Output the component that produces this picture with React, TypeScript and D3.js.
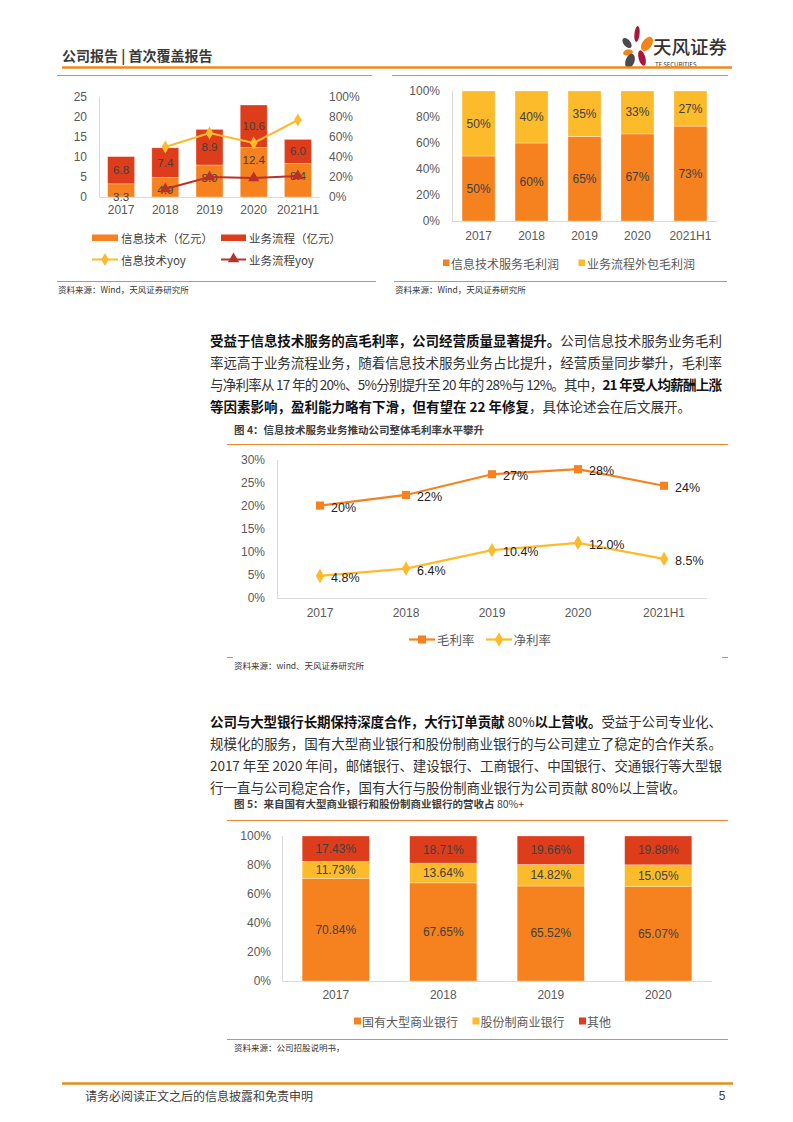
import React from 'react';
import * as d3 from 'd3';

// ---------- DATA ----------
const revCats = ['2017', '2018', '2019', '2020', '2021H1'];
const itRevenue = [3.3, 4.9, 8.0, 12.4, 8.4];
const bpRevenue = [6.8, 7.4, 8.9, 10.6, 6.0];
const itYoy: (number | null)[] = [null, 0.5, 0.64, 0.54, 0.77];
const bpYoy: (number | null)[] = [null, 0.08, 0.2, 0.19, 0.21];
const revLeftTicks = [0, 5, 10, 15, 20, 25];
const revRightTicks = [0, 0.2, 0.4, 0.6, 0.8, 1.0];

const gpCats = ['2017', '2018', '2019', '2020', '2021H1'];
const itGpShare = [50, 60, 65, 67, 73];
const bpGpShare = [50, 40, 35, 33, 27];
const shareTicks = [0, 20, 40, 60, 80, 100];

const marginCats = ['2017', '2018', '2019', '2020', '2021H1'];
const grossMargin = [20.1, 22.4, 26.9, 28.0, 24.4];
const netMargin = [4.8, 6.4, 10.4, 12.0, 8.5];
const marginTicks = [0, 5, 10, 15, 20, 25, 30];

const bankCats = ['2017', '2018', '2019', '2020'];
const stateBanks = [70.84, 67.65, 65.52, 65.07];
const jointBanks = [11.73, 13.64, 14.82, 15.05];
const otherBanks = [17.43, 18.71, 19.66, 19.88];

// ---------- STYLE ----------
const CJK = "'Noto Sans CJK SC','Microsoft YaHei',sans-serif";
const NUM = "'Liberation Sans',Arial,sans-serif";
const ORANGE = '#F5821F';
const RED = '#DD3D1B';
const YELLOW = '#FCBB2B';
const DARKRED = '#B8322A';
const RULE = '#F08A30';
const AXIS = '#D9D9D9';
const TICK = '#595959';
const LABEL = '#404040';

type Seg = { t: string; b?: boolean };
const para1: Seg[][] = [
  [{ t: '受益于信息技术服务的高毛利率，公司经营质量显著提升。', b: true }, { t: '公司信息技术服务业务毛利' }],
  [{ t: '率远高于业务流程业务，随着信息技术服务业务占比提升，经营质量同步攀升，毛利率' }],
  [{ t: '与净利率从 17 年的 20%、5%分别提升至 20 年的 28%与 12%。其中，' }, { t: '21 年受人均薪酬上涨', b: true }],
  [{ t: '等因素影响，盈利能力略有下滑，但有望在 22 年修复', b: true }, { t: '，具体论述会在后文展开。' }],
];
const para2: Seg[][] = [
  [{ t: '公司与大型银行长期保持深度合作，大行订单贡献 ', b: true }, { t: '80%' }, { t: '以上营收。', b: true }, { t: '受益于公司专业化、' }],
  [{ t: '规模化的服务，国有大型商业银行和股份制商业银行的与公司建立了稳定的合作关系。' }],
  [{ t: '2017 年至 2020 年间，邮储银行、建设银行、工商银行、中国银行、交通银行等大型银' }],
  [{ t: '行一直与公司稳定合作，国有大行与股份制商业银行为公司贡献 80%以上营收。' }],
];

function Paragraph({ lines, y0 }: { lines: Seg[][]; y0: number }) {
  return (
    <g fontFamily={CJK} fontSize={13.5} fill="#2b2b2b">
      {lines.map((segs, i) => (
        <text
          key={i}
          x={210}
          y={y0 + i * 22}
          dominantBaseline="central"
          {...(i < lines.length - 1 ? { textLength: 512, lengthAdjust: 'spacing' } : {})}
        >
          {segs.map((s, j) => (
            <tspan key={j} fontWeight={s.b ? 700 : 400} fill={s.b ? '#111' : '#333'}>
              {s.t}
            </tspan>
          ))}
        </text>
      ))}
    </g>
  );
}

function Header() {
  return (
    <g>
      <text x={62} y={55} dominantBaseline="central" fontFamily={CJK} fontSize={14} fontWeight={700} fill="#3a3a3a">
        公司报告 | 首次覆盖报告
      </text>
      {/* logo petals */}
      <g>
        <ellipse cx={637} cy={34} rx={2.6} ry={8} fill="#A8163B" transform="rotate(6 637 34)" />
        <ellipse cx={627} cy={43} rx={3.4} ry={6} fill="#4A4A4A" transform="rotate(-40 627 43)" />
        <ellipse cx={647} cy={44} rx={4.8} ry={8} fill="#F08519" transform="rotate(35 647 44)" />
        <ellipse cx={628} cy={52.5} rx={5} ry={3} fill="#F08519" transform="rotate(-12 628 52.5)" />
        <ellipse cx={642} cy={58} rx={3.4} ry={8} fill="#A8163B" transform="rotate(-15 642 58)" />
        <ellipse cx={630} cy={61} rx={4.4} ry={7.5} fill="#4A4A4A" transform="rotate(20 630 61)" />
      </g>
      <text x={653} y={45.5} dominantBaseline="central" fontFamily={CJK} fontSize={18.5} fontWeight={500} fill="#333">
        天风证券
      </text>
      <text x={655} y={64} dominantBaseline="central" fontFamily={CJK} fontSize={6} fill="#333">
        TF SECURITIES
      </text>
      <line x1={62} x2={732} y1={67.5} y2={67.5} stroke="#EE8A1E" strokeWidth={2.5} />
      <line x1={57} x2={372} y1={75.5} y2={75.5} stroke={RULE} strokeWidth={1} />
      <line x1={392} x2={728} y1={75.5} y2={75.5} stroke={RULE} strokeWidth={1} />
    </g>
  );
}

function RevenueChart() {
  const x = d3.scaleBand().domain(revCats).range([99, 320]).paddingInner(0.39).paddingOuter(0.195);
  const yL = d3.scaleLinear().domain([0, 25]).range([197, 97]);
  const yR = d3.scaleLinear().domain([0, 1]).range([197, 97]);
  const cx = (c: string) => (x(c) as number) + x.bandwidth() / 2;
  const line = d3
    .line<[string, number | null]>()
    .defined((d) => d[1] != null)
    .x((d) => cx(d[0]))
    .y((d) => yR(d[1] as number));
  const itPts: [string, number | null][] = revCats.map((c, i) => [c, itYoy[i]]);
  const bpPts: [string, number | null][] = revCats.map((c, i) => [c, bpYoy[i]]);
  const diamond = d3.symbol(d3.symbolDiamond, 50)() as string;
  const tri = d3.symbol(d3.symbolTriangle, 55)() as string;
  const fmt = d3.format('.1f');
  return (
    <g>
      {revLeftTicks.map((t) => (
        <text key={t} x={87} y={yL(t)} textAnchor="end" dominantBaseline="central" fontFamily={NUM} fontSize={12} fill={TICK}>
          {t}
        </text>
      ))}
      {revRightTicks.map((t) => (
        <text key={t} x={329} y={yR(t)} dominantBaseline="central" fontFamily={NUM} fontSize={12} fill={TICK}>
          {d3.format('.0%')(t)}
        </text>
      ))}
      <line x1={99.5} x2={99.5} y1={97} y2={197} stroke={AXIS} />
      <line x1={99} x2={320} y1={197.5} y2={197.5} stroke={AXIS} />
      {revCats.map((c, i) => {
        const x0 = x(c) as number;
        const w = x.bandwidth();
        const top1 = yL(itRevenue[i]);
        const top2 = yL(itRevenue[i] + bpRevenue[i]);
        return (
          <g key={c}>
            <rect x={x0} y={top1} width={w} height={yL(0) - top1} fill={ORANGE} stroke="#fff" strokeOpacity={0.5} strokeWidth={0.6} />
            <rect x={x0} y={top2} width={w} height={top1 - top2} fill={RED} stroke="#fff" strokeOpacity={0.5} strokeWidth={0.6} />
            <text x={cx(c)} y={(top1 + top2) / 2} textAnchor="middle" dominantBaseline="central" fontFamily={NUM} fontSize={11.5} fill={LABEL}>
              {fmt(bpRevenue[i])}
            </text>
            <text x={cx(c)} y={top1 + 13} textAnchor="middle" dominantBaseline="central" fontFamily={NUM} fontSize={11.5} fill={LABEL}>
              {fmt(itRevenue[i])}
            </text>
            <text x={cx(c)} y={210} textAnchor="middle" dominantBaseline="central" fontFamily={NUM} fontSize={12} fill={TICK}>
              {c}
            </text>
          </g>
        );
      })}
      <path d={line(itPts) as string} fill="none" stroke={YELLOW} strokeWidth={2} />
      <path d={line(bpPts) as string} fill="none" stroke={DARKRED} strokeWidth={2} />
      {itPts.filter((d) => d[1] != null).map((d) => (
        <path key={d[0]} d={diamond} transform={`translate(${cx(d[0])},${yR(d[1] as number)})`} fill={YELLOW} />
      ))}
      {bpPts.filter((d) => d[1] != null).map((d) => (
        <path key={d[0]} d={tri} transform={`translate(${cx(d[0])},${yR(d[1] as number)})`} fill={DARKRED} />
      ))}
      {/* legend */}
      <g fontFamily={CJK} fontSize={11.5} fill={LABEL}>
        <rect x={92} y={234.5} width={26} height={6.5} fill={ORANGE} />
        <text x={121} y={237.5} dominantBaseline="central">信息技术（亿元）</text>
        <rect x={221} y={234.5} width={25} height={6.5} fill={RED} />
        <text x={249} y={237.5} dominantBaseline="central">业务流程（亿元）</text>
        <line x1={92} x2={118} y1={259.5} y2={259.5} stroke={YELLOW} strokeWidth={2} />
        <path d={diamond} transform="translate(105,259.5)" fill={YELLOW} />
        <text x={121} y={259.5} dominantBaseline="central">信息技术yoy</text>
        <line x1={221} x2={246} y1={259.5} y2={259.5} stroke={DARKRED} strokeWidth={2} />
        <path d={tri} transform="translate(233.5,259)" fill={DARKRED} />
        <text x={249} y={259.5} dominantBaseline="central">业务流程yoy</text>
      </g>
      <line x1={57} x2={376} y1={281.5} y2={281.5} stroke={RULE} strokeWidth={1} />
      <text x={58} y={288.5} dominantBaseline="central" fontFamily={CJK} fontSize={8.5} fill="#333">
        资料来源：Wind，天风证券研究所
      </text>
    </g>
  );
}

function GrossShareChart() {
  const x = d3.scaleBand().domain(gpCats).range([452, 717]).paddingInner(0.377).paddingOuter(0.19);
  const y = d3.scaleLinear().domain([0, 100]).range([221, 91]);
  const cx = (c: string) => (x(c) as number) + x.bandwidth() / 2;
  return (
    <g>
      {shareTicks.map((t) => (
        <text key={t} x={440} y={y(t)} textAnchor="end" dominantBaseline="central" fontFamily={NUM} fontSize={12} fill={TICK}>
          {t}%
        </text>
      ))}
      <line x1={452.5} x2={452.5} y1={91} y2={221} stroke={AXIS} />
      <line x1={452} x2={717} y1={221.5} y2={221.5} stroke={AXIS} />
      {gpCats.map((c, i) => {
        const x0 = x(c) as number;
        const w = x.bandwidth();
        const t1 = y(itGpShare[i]);
        const t2 = y(itGpShare[i] + bpGpShare[i]);
        return (
          <g key={c}>
            <rect x={x0} y={t1} width={w} height={y(0) - t1} fill={ORANGE} stroke="#fff" strokeOpacity={0.5} strokeWidth={0.6} />
            <rect x={x0} y={t2} width={w} height={t1 - t2} fill={YELLOW} stroke="#fff" strokeOpacity={0.5} strokeWidth={0.6} />
            <text x={cx(c)} y={(t1 + y(0)) / 2} textAnchor="middle" dominantBaseline="central" fontFamily={NUM} fontSize={12} fill={LABEL}>
              {itGpShare[i]}%
            </text>
            <text x={cx(c)} y={(t1 + t2) / 2} textAnchor="middle" dominantBaseline="central" fontFamily={NUM} fontSize={12} fill={LABEL}>
              {bpGpShare[i]}%
            </text>
            <text x={cx(c)} y={235.5} textAnchor="middle" dominantBaseline="central" fontFamily={NUM} fontSize={12} fill={TICK}>
              {c}
            </text>
          </g>
        );
      })}
      <g fontFamily={CJK} fontSize={12} fill={TICK}>
        <rect x={443} y={259.5} width={6.5} height={6.5} fill={ORANGE} />
        <text x={451} y={263} dominantBaseline="central">信息技术服务毛利润</text>
        <rect x={578.5} y={259.5} width={6.5} height={6.5} fill={YELLOW} />
        <text x={587} y={263} dominantBaseline="central">业务流程外包毛利润</text>
      </g>
      <line x1={394} x2={727} y1={281.5} y2={281.5} stroke={RULE} strokeWidth={1} />
      <text x={395} y={288.5} dominantBaseline="central" fontFamily={CJK} fontSize={8.5} fill="#333">
        资料来源：Wind，天风证券研究所
      </text>
    </g>
  );
}

function MarginChart() {
  const x = d3.scaleBand().domain(marginCats).range([277, 707]);
  const y = d3.scaleLinear().domain([0, 30]).range([598, 460]);
  const cx = (c: string) => (x(c) as number) + x.bandwidth() / 2;
  const line = d3
    .line<number>()
    .x((_, i) => cx(marginCats[i]))
    .y((d) => y(d));
  const sq = d3.symbol(d3.symbolSquare, 66)() as string;
  const dia = d3.symbol(d3.symbolDiamond, 60)() as string;
  return (
    <g>
      <text x={234} y={429} dominantBaseline="central" fontFamily={CJK} fontSize={10.5} fontWeight={700} fill="#404040">
        图 4：信息技术服务业务推动公司整体毛利率水平攀升
      </text>
      <line x1={227} x2={728} y1={444.5} y2={444.5} stroke={RULE} strokeWidth={1} />
      {marginTicks.map((t) => (
        <text key={t} x={265} y={y(t)} textAnchor="end" dominantBaseline="central" fontFamily={NUM} fontSize={12} fill={TICK}>
          {t}%
        </text>
      ))}
      <line x1={277.5} x2={277.5} y1={460} y2={598} stroke={AXIS} />
      <line x1={277} x2={707} y1={598.5} y2={598.5} stroke={AXIS} />
      {marginCats.map((c) => (
        <text key={c} x={cx(c)} y={612.5} textAnchor="middle" dominantBaseline="central" fontFamily={NUM} fontSize={12} fill={TICK}>
          {c}
        </text>
      ))}
      <path d={line(grossMargin) as string} fill="none" stroke={ORANGE} strokeWidth={2.2} />
      <path d={line(netMargin) as string} fill="none" stroke={YELLOW} strokeWidth={2.2} />
      {grossMargin.map((v, i) => (
        <g key={'g' + i}>
          <path d={sq} transform={`translate(${cx(marginCats[i])},${y(v)})`} fill={ORANGE} />
          <text x={cx(marginCats[i]) + 11} y={y(v) + 2} dominantBaseline="central" fontFamily={NUM} fontSize={12.5} fill="#222">
            {d3.format('.0f')(v)}%
          </text>
        </g>
      ))}
      {netMargin.map((v, i) => (
        <g key={'n' + i}>
          <path d={dia} transform={`translate(${cx(marginCats[i])},${y(v)})`} fill={YELLOW} />
          <text x={cx(marginCats[i]) + 11} y={y(v) + 2} dominantBaseline="central" fontFamily={NUM} fontSize={12.5} fill="#222">
            {d3.format('.1f')(v)}%
          </text>
        </g>
      ))}
      <g fontFamily={CJK} fontSize={12.5} fill={TICK}>
        <line x1={409} x2={435} y1={639.5} y2={639.5} stroke={ORANGE} strokeWidth={2.2} />
        <path d={sq} transform="translate(422,639.5)" fill={ORANGE} />
        <text x={437} y={639.5} dominantBaseline="central">毛利率</text>
        <line x1={486} x2={512} y1={639.5} y2={639.5} stroke={YELLOW} strokeWidth={2.2} />
        <path d={dia} transform="translate(499,639.5)" fill={YELLOW} />
        <text x={513.5} y={639.5} dominantBaseline="central">净利率</text>
      </g>
      <line x1={227} x2={233} y1={657.5} y2={657.5} stroke={RULE} strokeWidth={1} />
      <line x1={722} x2={728} y1={657.5} y2={657.5} stroke={RULE} strokeWidth={1} />
      <text x={234} y={665} dominantBaseline="central" fontFamily={CJK} fontSize={8.5} fill="#333">
        资料来源：wind、天风证券研究所
      </text>
    </g>
  );
}

function BankChart() {
  const x = d3.scaleBand().domain(bankCats).range([282, 712]).paddingInner(0.375).paddingOuter(0.1875);
  const y = d3.scaleLinear().domain([0, 100]).range([981, 836]);
  const cx = (c: string) => (x(c) as number) + x.bandwidth() / 2;
  const fmt = (v: number) => d3.format('.2f')(v) + '%';
  return (
    <g>
      <text x={234} y={803} dominantBaseline="central" fontFamily={CJK} fontSize={10.5} fontWeight={700} fill="#404040">
        图 5：来自国有大型商业银行和股份制商业银行的营收占 <tspan fontWeight={400}>80%+</tspan>
      </text>
      <line x1={227} x2={728} y1={820.5} y2={820.5} stroke={RULE} strokeWidth={1} />
      {shareTicks.map((t) => (
        <text key={t} x={271} y={y(t)} textAnchor="end" dominantBaseline="central" fontFamily={NUM} fontSize={12} fill={TICK}>
          {t}%
        </text>
      ))}
      <line x1={282.5} x2={282.5} y1={836} y2={981} stroke={AXIS} />
      <line x1={282} x2={712} y1={981.5} y2={981.5} stroke={AXIS} />
      {bankCats.map((c, i) => {
        const x0 = x(c) as number;
        const w = x.bandwidth();
        const a = stateBanks[i];
        const b = jointBanks[i];
        const o = otherBanks[i];
        const segs = [
          { lo: 0, hi: a, v: a, fill: ORANGE },
          { lo: a, hi: a + b, v: b, fill: YELLOW },
          { lo: a + b, hi: a + b + o, v: o, fill: RED },
        ];
        return (
          <g key={c}>
            {segs.map((s, k) => (
              <rect key={k} x={x0} y={y(s.hi)} width={w} height={y(s.lo) - y(s.hi)} fill={s.fill} stroke="#fff" strokeOpacity={0.5} strokeWidth={0.6} />
            ))}
            {segs.map((s, k) => (
              <text key={'t' + k} x={cx(c)} y={(y(s.lo) + y(s.hi)) / 2} textAnchor="middle" dominantBaseline="central" fontFamily={NUM} fontSize={12} fill={LABEL}>
                {fmt(s.v)}
              </text>
            ))}
            <text x={cx(c)} y={994.5} textAnchor="middle" dominantBaseline="central" fontFamily={NUM} fontSize={12} fill={TICK}>
              {c}
            </text>
          </g>
        );
      })}
      <g fontFamily={CJK} fontSize={12} fill={TICK}>
        <rect x={354} y={1017.5} width={7} height={7} fill={ORANGE} />
        <text x={362} y={1021} dominantBaseline="central">国有大型商业银行</text>
        <rect x={472.5} y={1017.5} width={7} height={7} fill={YELLOW} />
        <text x={480.5} y={1021} dominantBaseline="central">股份制商业银行</text>
        <rect x={579} y={1017.5} width={7} height={7} fill={RED} />
        <text x={587} y={1021} dominantBaseline="central">其他</text>
      </g>
      <line x1={227} x2={728} y1={1039.5} y2={1039.5} stroke={RULE} strokeWidth={1} />
      <text x={234} y={1047} dominantBaseline="central" fontFamily={CJK} fontSize={8.5} fill="#333">
        资料来源：公司招股说明书，
      </text>
    </g>
  );
}

function Footer() {
  return (
    <g>
      <line x1={62} x2={733} y1={1083.5} y2={1083.5} stroke="#E58E1A" strokeWidth={2.5} />
      <text x={85} y={1095.5} dominantBaseline="central" fontFamily={CJK} fontSize={12} fill="#404040">
        请务必阅读正文之后的信息披露和免责申明
      </text>
      <text x={722} y={1095.5} dominantBaseline="central" textAnchor="middle" fontFamily={NUM} fontSize={12} fill="#404040">
        5
      </text>
    </g>
  );
}

export default function App() {
  return (
    <svg
      width={793}
      height={1122}
      viewBox="0 0 793 1122"
      style={{ position: 'absolute', left: 0, top: 0, background: '#fff' }}
    >
      <rect x={0} y={0} width={793} height={1122} fill="#fff" />
      <Header />
      <RevenueChart />
      <GrossShareChart />
      <Paragraph lines={para1} y0={340} />
      <MarginChart />
      <Paragraph lines={para2} y0={721} />
      <BankChart />
      <Footer />
    </svg>
  );
}
